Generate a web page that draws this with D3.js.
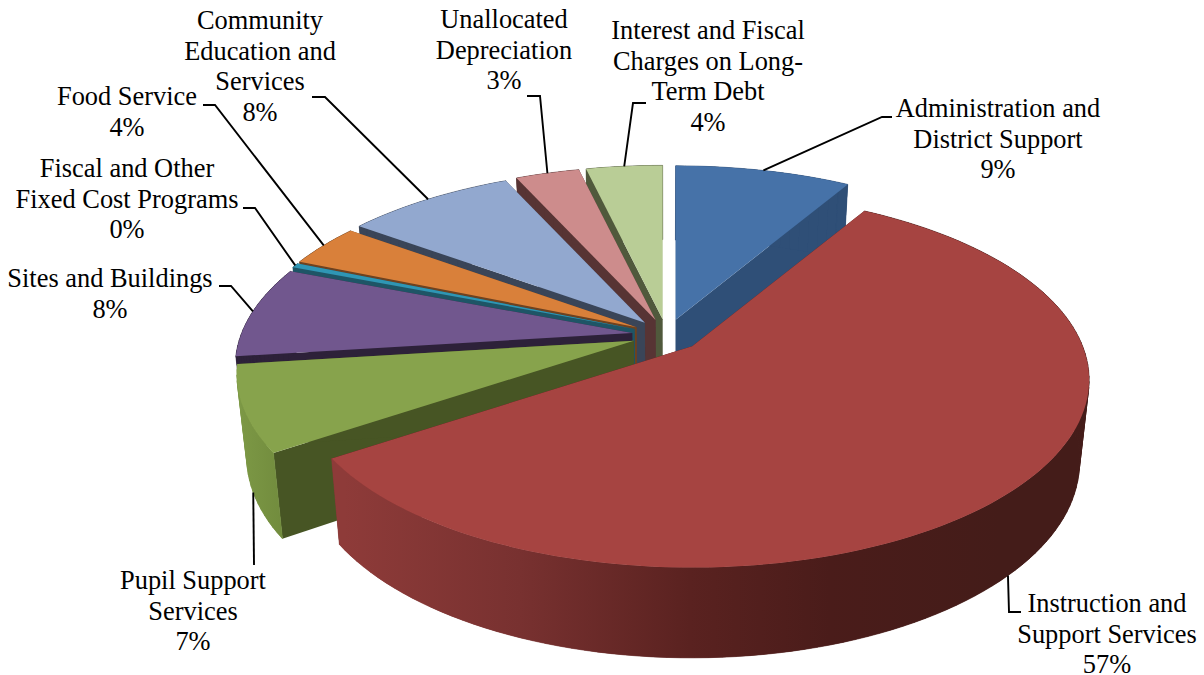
<!DOCTYPE html>
<html>
<head>
<meta charset="utf-8">
<title>Expenditures by function</title>
<script src="https://cdn.jsdelivr.net/npm/d3@7/dist/d3.min.js"></script>
<style>
  html, body { margin: 0; background: #fff; overflow: hidden; }
  svg { display: block; }
  text { font-family: "Liberation Serif", serif; font-size: 26.4px; fill: #000; text-anchor: middle; }
</style>
</head>
<body>
<svg id="chart" width="1204" height="675"></svg>
<script>
// Categories and shares of total spending, clockwise from twelve o'clock.
const categories = [
  "Administration and District Support",
  "Instruction and Support Services",
  "Pupil Support Services",
  "Sites and Buildings",
  "Fiscal and Other Fixed Cost Programs",
  "Food Service",
  "Community Education and Services",
  "Unallocated Depreciation",
  "Interest and Fiscal Charges on Long-Term Debt"
];
const shares = [8.5, 57.1, 7.4, 7.9, 0.4, 3.7, 8.2, 3.1, 3.7];

// Wrapped label lines, one list per category.
const labelLines = [
  ["Administration and", "District Support"],
  ["Instruction and", "Support Services"],
  ["Pupil Support", "Services"],
  ["Sites and Buildings"],
  ["Fiscal and Other", "Fixed Cost Programs"],
  ["Food Service"],
  ["Community", "Education and", "Services"],
  ["Unallocated", "Depreciation"],
  ["Interest and Fiscal", "Charges on Long-", "Term Debt"]
];

// Face colours.
const topColors  = ["#4672a8", "#a64441", "#87a34c", "#71578e", "#2f96b4", "#d9803a", "#92a8cf", "#cd8c8c", "#b9cd96"];
const wallColors = ["#2f4f77", "#4a1c1a", "#475524", "#2d2139", "#1e5566", "#6e4220", "#3a4558", "#573434", "#50593c"];

// Label placement: centre x, first-line baseline, then leader elbow and end.
const labelX   = [998, 1107, 193, 110, 127, 127, 260, 504, 708];
const labelY   = [117, 612, 589, 287, 177, 105, 29, 28, 39];
const leaders  = [
  [[882, 117], [892, 117]],
  [[1009, 612], [1021, 612]],
  [[254, 565]],
  [[231, 286], [219, 286]],
  [[255, 208], [243, 208]],
  [[215, 105], [203, 105]],
  [[325, 97], [312, 97]],
  [[540, 96], [527, 96]],
  [[633, 103], [646, 103]]
];
const lineStep = 30.6;

// Perspective set-up for the disc.
const cx = 666.6, cy = 335, radiusX = 390.5, radiusY = 181.5;
const perspective = 0.18, explode = 0.089;
const floorScaleX = 0.977, floorScaleY = 1.04, floorDrop = 81;

// Offset of a unit-circle point from its slice apex, foreshortened by distance.
function foreshorten(px, py) {
  const w = 1 + perspective * py;
  return [radiusX * px / w, -radiusY * py / w];
}

// Moves a top-plane point down onto the floor plane.
function toFloor([x, y]) {
  return [cx + (x - cx) * floorScaleX, cy + (y - cy) * floorScaleY + floorDrop];
}

const arcs = d3.pie().sort(null).value(d => d).startAngle(0).endAngle(2 * Math.PI)(shares);

const slices = arcs.map((a, i) => {
  const mid = (a.startAngle + a.endAngle) / 2;
  const [ax, ay] = foreshorten(explode * Math.sin(mid), explode * Math.cos(mid));
  const apexTop = [cx + ax, cy + ay];
  const rimTop = t => {
    const [dx, dy] = foreshorten(Math.sin(t), Math.cos(t));
    return [apexTop[0] + dx, apexTop[1] + dy];
  };
  const rim = (t, floor) => floor ? toFloor(rimTop(t)) : rimTop(t);
  const apex = floor => floor ? toFloor(apexTop) : apexTop;
  const steps = Math.max(2, Math.ceil((a.endAngle - a.startAngle) / 0.03));
  const angles = d3.range(steps + 1).map(k => a.startAngle + (a.endAngle - a.startAngle) * k / steps);
  return { i, mid, rim, apex, angles, start: a.startAngle, end: a.endAngle };
});

const svg = d3.select("#chart");
const defs = svg.append("defs");
const outline = d3.line().curve(d3.curveLinear);

// Horizontal shading along the outer wall of the two front slices.
const rimShade = new Map([
  [1, d3.scaleLinear().domain([344, 520, 690, 830, 1000]).range(["#8e3b39", "#783130", "#5a2220", "#4a1c1a", "#441c19"])],
  [2, d3.scaleLinear().domain([240, 285]).range(["#7c9845", "#718b3d"])]
]);
rimShade.forEach((scale, i) => {
  const [x0, x1] = d3.extent(scale.domain());
  const gradient = defs.append("linearGradient")
    .attr("id", "rim-" + i)
    .attr("gradientUnits", "userSpaceOnUse")
    .attr("x1", x0).attr("x2", x1).attr("y1", 0).attr("y2", 0);
  gradient.selectAll("stop").data(scale.domain()).join("stop")
    .attr("offset", d => (d - x0) / (x1 - x0))
    .attr("stop-color", d => scale(d));
});

// Painted back to front so nearer slices cover the walls behind them.
const paintOrder = [8, 7, 6, 5, 4, 3, 0, 2, 1];

paintOrder.forEach(i => {
  const s = slices[i];
  const g = svg.append("g").attr("class", "slice");

  // Radial walls.
  [s.start, s.end].forEach(t => {
    g.append("path")
      .attr("d", outline([s.apex(false), s.rim(t, false), s.rim(t, true), s.apex(true)]) + "Z")
      .attr("fill", wallColors[i]);
  });

  // Outer wall: a solid underlay, then narrow steps that close the silhouette.
  const paint = rimShade.has(i) ? `url(#rim-${i})` : wallColors[i];
  g.append("path")
    .attr("d", outline([
      ...s.angles.map(t => s.rim(t, false)),
      ...s.angles.slice().reverse().map(t => s.rim(t, true))
    ]) + "Z")
    .attr("fill", paint);
  d3.pairs(s.angles).forEach(([t0, t1]) => {
    g.append("path")
      .attr("d", outline([s.rim(t0, false), s.rim(t1, false), s.rim(t1, true), s.rim(t0, true)]) + "Z")
      .attr("fill", paint)
      .attr("stroke", paint)
      .attr("stroke-width", 0.6);
  });

  // Top face.
  g.append("path")
    .attr("d", outline([s.apex(false), ...s.angles.map(t => s.rim(t, false))]) + "Z")
    .attr("fill", topColors[i]);
});

// Leader lines: front slices anchor on the lower rim, the others on the upper rim.
const leaderLine = d3.line();
slices.forEach(s => {
  const anchor = s.rim(s.mid, Math.cos(s.mid) < -0.2);
  svg.append("path")
    .attr("d", leaderLine([anchor, ...leaders[s.i]]))
    .attr("fill", "none")
    .attr("stroke", "#000")
    .attr("stroke-width", 1.9);
});

// Labels: category lines, then the rounded share.
const percent = v => Math.round(v) + "%";
const labels = svg.append("g").selectAll("text").data(categories).join("text")
  .attr("aria-label", d => d)
  .attr("x", (d, i) => labelX[i])
  .attr("y", (d, i) => labelY[i]);

labels.each(function (d, i) {
  const lines = [...labelLines[i], percent(shares[i])];
  d3.select(this).selectAll("tspan").data(lines).join("tspan")
    .attr("x", labelX[i])
    .attr("dy", (l, k) => k === 0 ? 0 : lineStep)
    .text(l => l);
});
</script>
</body>
</html>
